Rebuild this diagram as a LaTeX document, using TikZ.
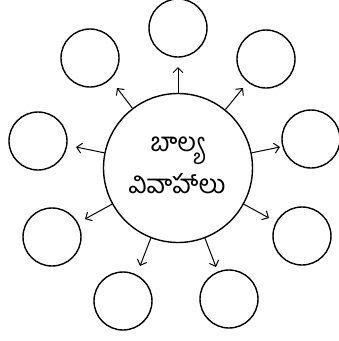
\documentclass[tikz,border=0pt]{standalone}
\usepackage{fontspec}
\newfontfamily\telugufont[Script=Telugu]{Hind Guntur}
\usetikzlibrary{arrows.meta}
\begin{document}
\begin{tikzpicture}[x=1pt,y=-1pt,
  small/.style={circle,draw,line width=1.4pt,minimum size=58pt,inner sep=0pt},
  big/.style={circle,draw,line width=1.4pt,minimum size=149pt,inner sep=0pt},
  arr/.style={line width=1pt,-{Straight Barb[length=5pt,width=10pt]}}]
\useasboundingbox (0,0) rectangle (339,341);
\node[big] (c) at (178,168) {};
\node[align=center,font=\telugufont\fontsize{26}{42}\selectfont] (t) at (177,165) {బాల్య\\వివాహాలు};
\node[small] (n1) at (178,28) {};
\node[small] (n2) at (266,59) {};
\node[small] (n3) at (311,139) {};
\node[small] (n4) at (302,236) {};
\node[small] (n5) at (229,299) {};
\node[small] (n6) at (123,301) {};
\node[small] (n7) at (52,237) {};
\node[small] (n8) at (38,141) {};
\node[small] (n9) at (90,58) {};
\coordinate (e1) at (178,67);
\coordinate (e2) at (243,88);
\coordinate (e3) at (280,147);
\coordinate (e4) at (269,218);
\coordinate (e5) at (216,267);
\coordinate (e6) at (140,266);
\coordinate (e7) at (85,219);
\coordinate (e8) at (76,147);
\coordinate (e9) at (117,88);
\foreach \i in {1,...,9}{\draw[arr] (c) -- (e\i);}
\end{tikzpicture}
\end{document}
